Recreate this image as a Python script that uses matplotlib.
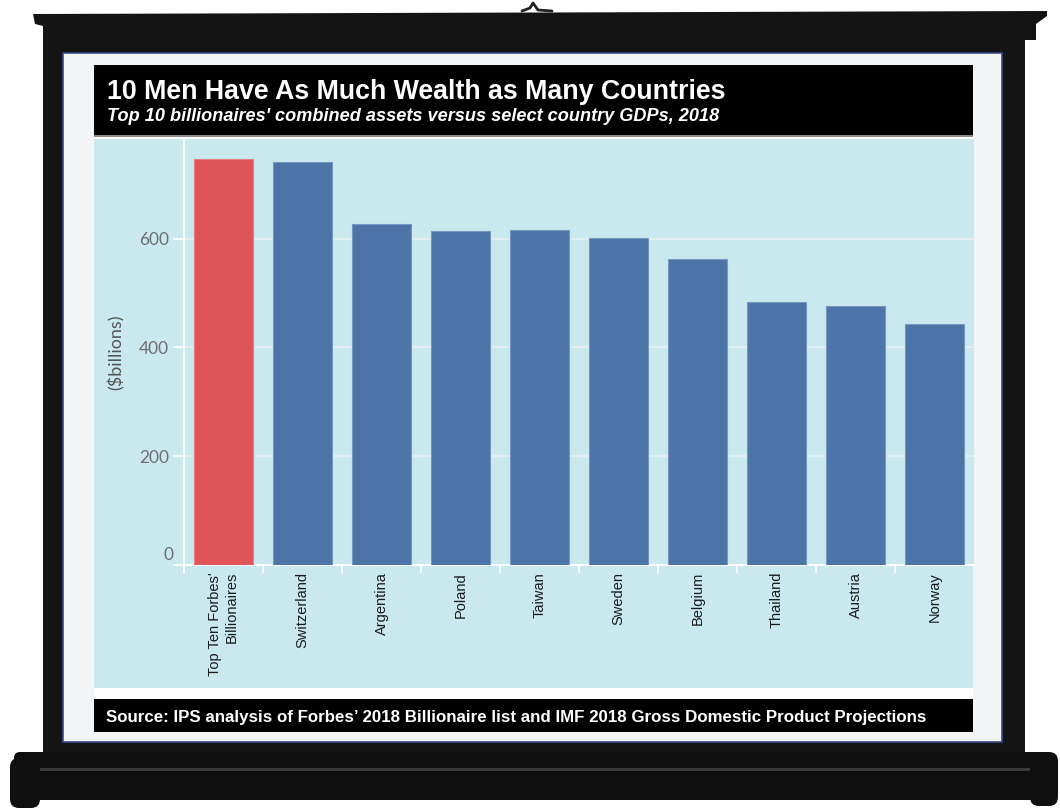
import matplotlib
matplotlib.use('Agg')
import matplotlib.pyplot as plt
import matplotlib.patches as mpatches
import matplotlib.transforms as mtransforms
import numpy as np

# data ($ billions)
categories = ["Top Ten Forbes'\nBillionaires", 'Switzerland', 'Argentina', 'Poland', 'Taiwan',
              'Sweden', 'Belgium', 'Thailand', 'Austria', 'Norway']
values = [746, 741, 627, 614, 615, 601, 562, 483, 476, 443]
bar_colors = ['#e05559'] + ['#4c74a7'] * 9
edge_colors = ['#e97f82'] + ['#7597c2'] * 9
yticks = [0, 200, 400, 600]

title = '10 Men Have As Much Wealth as Many Countries'
subtitle = "Top 10 billionaires' combined assets versus select country GDPs, 2018"
source = "Source: IPS analysis of Forbes\u2019 2018 Billionaire list and IMF 2018 Gross Domestic Product Projections"

W, H = 1060, 809
fig = plt.figure(figsize=(W / 100, H / 100), dpi=100)
fig.patch.set_facecolor('white')

# background axes in pixel units (y down) for the projector screen
bg = fig.add_axes([0, 0, 1, 1], zorder=0)
bg.set_xlim(0, W)
bg.set_ylim(H, 0)
bg.axis('off')

frame = '#141414'
# top bar with end caps
bg.add_patch(mpatches.Polygon([(33, 14), (1047, 11), (1047, 16), (1036, 24), (1036, 40), (1025, 40),
                               (1025, 752), (43, 752), (43, 26), (35, 24)], closed=True,
                              facecolor=frame, edgecolor='none'))
# little hook on top
bg.plot([522, 530, 533, 538, 552], [11, 8, 3, 10, 11], color='#222222', linewidth=2, solid_capstyle='round')
# screen
bg.add_patch(mpatches.Rectangle((63, 53), 939, 689, facecolor='#f3f4f6', edgecolor='#3c4a86', linewidth=1.2))
# roller
bg.add_patch(mpatches.FancyBboxPatch((14, 752), 1032, 48, boxstyle='round,pad=0,rounding_size=6',
                                     facecolor='#0f0f0f', edgecolor='none'))
bg.add_patch(mpatches.Rectangle((30, 768), 1000, 3, facecolor='#3a3a3a', edgecolor='none'))
bg.add_patch(mpatches.FancyBboxPatch((10, 758), 30, 50, boxstyle='round,pad=0,rounding_size=9',
                                     facecolor='#101010', edgecolor='none'))
bg.add_patch(mpatches.FancyBboxPatch((1030, 752), 28, 54, boxstyle='round,pad=0,rounding_size=9',
                                     facecolor='#101010', edgecolor='none'))

# chart image
bg.add_patch(mpatches.Rectangle((94, 65), 879, 667, facecolor='white', edgecolor='none'))
bg.add_patch(mpatches.Rectangle((94, 65), 879, 70, facecolor='black', edgecolor='none'))
bg.add_patch(mpatches.Rectangle((94, 135), 879, 1.5, facecolor='#8a8a8a', edgecolor='none'))
bg.add_patch(mpatches.Rectangle((94, 139), 879, 549, facecolor='#cae9ef', edgecolor='none'))
bg.add_patch(mpatches.Rectangle((94, 699), 879, 33, facecolor='black', edgecolor='none'))

bg.text(107, 99, title, color='white', fontsize=19.25, fontweight='bold',
        family='Liberation Sans', va='baseline')
bg.text(107, 121, subtitle, color='white', fontsize=13.07, fontweight='bold', style='italic',
        family='Liberation Sans', va='baseline')
bg.text(106, 722, source, color='white', fontsize=12.13, fontweight='bold',
        family='Liberation Sans', va='baseline')

# bar chart
ax = fig.add_axes([184 / W, (H - 565) / H, 790 / W, 426 / H], zorder=2)
ax.set_facecolor('#cae9ef')
x = np.arange(len(categories))
ax.bar(x, values, width=0.75, color=bar_colors, edgecolor=edge_colors, linewidth=0.8, zorder=3)
ax.set_xlim(-0.5, len(categories) - 0.5)
ax.set_ylim(0, 783)

for s in ['top', 'right']:
    ax.spines[s].set_visible(False)
ax.spines['left'].set_color('white')
ax.spines['bottom'].set_color('white')
ax.spines['left'].set_bounds(-14, 783)
ax.spines['left'].set_linewidth(1.2)
ax.spines['bottom'].set_linewidth(1.2)

ax.set_yticks(yticks)
ax.set_yticklabels([''] + [str(v) for v in yticks[1:]], family='Lato', fontsize=12.4, color='#6e6e6e')
ax.tick_params(axis='y', length=8, color='white', width=1.2, pad=3)
ax.grid(axis='y', color='#e6eef0', linewidth=1.2, zorder=1)
ax.set_axisbelow(True)
# the zero label sits a little above its tick
trans = mtransforms.blended_transform_factory(ax.transAxes, ax.transData)
ax.text(-0.0138, 18, '0', transform=trans, ha='right', va='center', family='Lato',
        fontsize=12.4, color='#6e6e6e')

ax.set_xticks(x)
ax.set_xticklabels(categories, rotation=90, family='Liberation Sans', fontsize=10.5,
                   color='#1a1a1a', ha='center', va='top', multialignment='right')
ax.tick_params(axis='x', which='major', length=0, pad=5)
ax.set_xticks(x - 0.5, minor=True)
ax.tick_params(axis='x', which='minor', length=6, color='white', width=1.2)

ax.set_ylabel('($billions)', family='Lato', fontsize=13, color='#555555')
ax.yaxis.set_label_coords(-0.075, 0.5)

fig.savefig('out.png', dpi=100, facecolor=fig.get_facecolor())
